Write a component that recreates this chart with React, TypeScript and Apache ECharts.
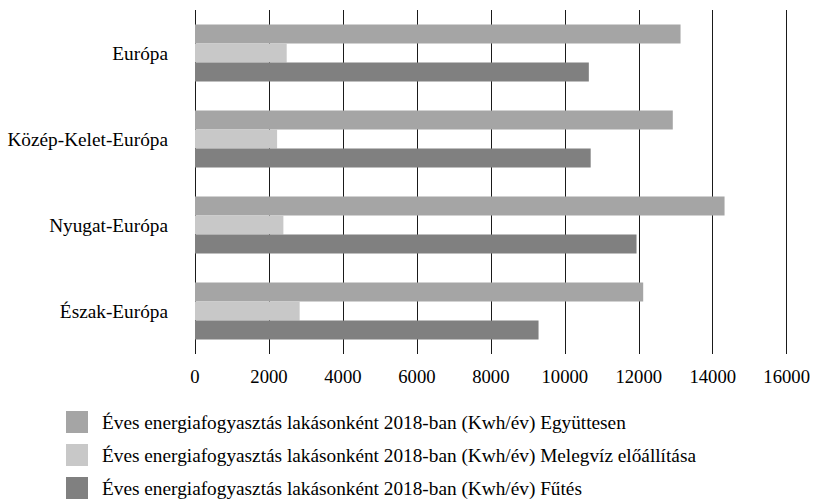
import React, { useEffect, useRef } from "react";
import * as echarts from "echarts";

const categories = ["Észak-Európa", "Nyugat-Európa", "Közép-Kelet-Európa", "Európa"];
const seriesNames = [
  "Éves energiafogyasztás lakásonként 2018-ban (Kwh/év) Együttesen",
  "Éves energiafogyasztás lakásonként 2018-ban (Kwh/év) Melegvíz előállítása",
  "Éves energiafogyasztás lakásonként 2018-ban (Kwh/év) Fűtés",
];
const egyuttesen = [12120, 14320, 12920, 13130];
const melegviz = [2830, 2390, 2220, 2480];
const futes = [9290, 11940, 10700, 10650];
const colors = ["#a5a5a5", "#c8c8c8", "#808080"];

const FONT = "'Liberation Serif', 'Times New Roman', serif";

export default function App() {
  const ref = useRef<HTMLDivElement>(null);
  useEffect(() => {
    if (!ref.current) return;
    const chart = echarts.init(ref.current, null, { renderer: "svg" });
    const values = [egyuttesen, melegviz, futes];
    chart.setOption({
      animation: false,
      backgroundColor: "#ffffff",
      textStyle: { fontFamily: FONT },
      grid: { left: 195, right: 24, top: 10, bottom: 146, containLabel: false },
      legend: {
        orient: "vertical",
        left: 66,
        top: 411,
        height: 90,
        padding: 0,
        itemWidth: 22,
        itemHeight: 22,
        itemGap: 11,
        icon: "rect",
        selectedMode: false,
        data: seriesNames,
        textStyle: { fontFamily: FONT, fontSize: 19.3, color: "#000", padding: [0, 0, 0, 9] },
      },
      xAxis: {
        type: "value",
        min: 0,
        max: 16000,
        interval: 2000,
        axisLine: { show: false },
        axisTick: { show: false },
        axisLabel: {
          fontFamily: FONT,
          fontSize: 18.67,
          color: "#000",
          margin: 13,
          formatter: (v: number) => String(v),
        },
        splitLine: { show: true, lineStyle: { color: "#1a1a1a", width: 1 } },
      },
      yAxis: {
        type: "category",
        data: categories,
        axisLine: { show: false },
        axisTick: { show: false },
        axisLabel: { fontFamily: FONT, fontSize: 19.3, color: "#000", margin: 27 },
        splitLine: { show: false },
      },
      series: seriesNames.map((name, i) => ({
        name,
        type: "bar",
        data: values[i],
        barWidth: 19,
        barGap: "0%",
        itemStyle: { color: colors[i] },
      })),
    });
    return () => chart.dispose();
  }, []);
  return (
    <div
      ref={ref}
      style={{ position: "fixed", left: 0, top: 0, width: 813, height: 500, background: "#fff" }}
    />
  );
}
